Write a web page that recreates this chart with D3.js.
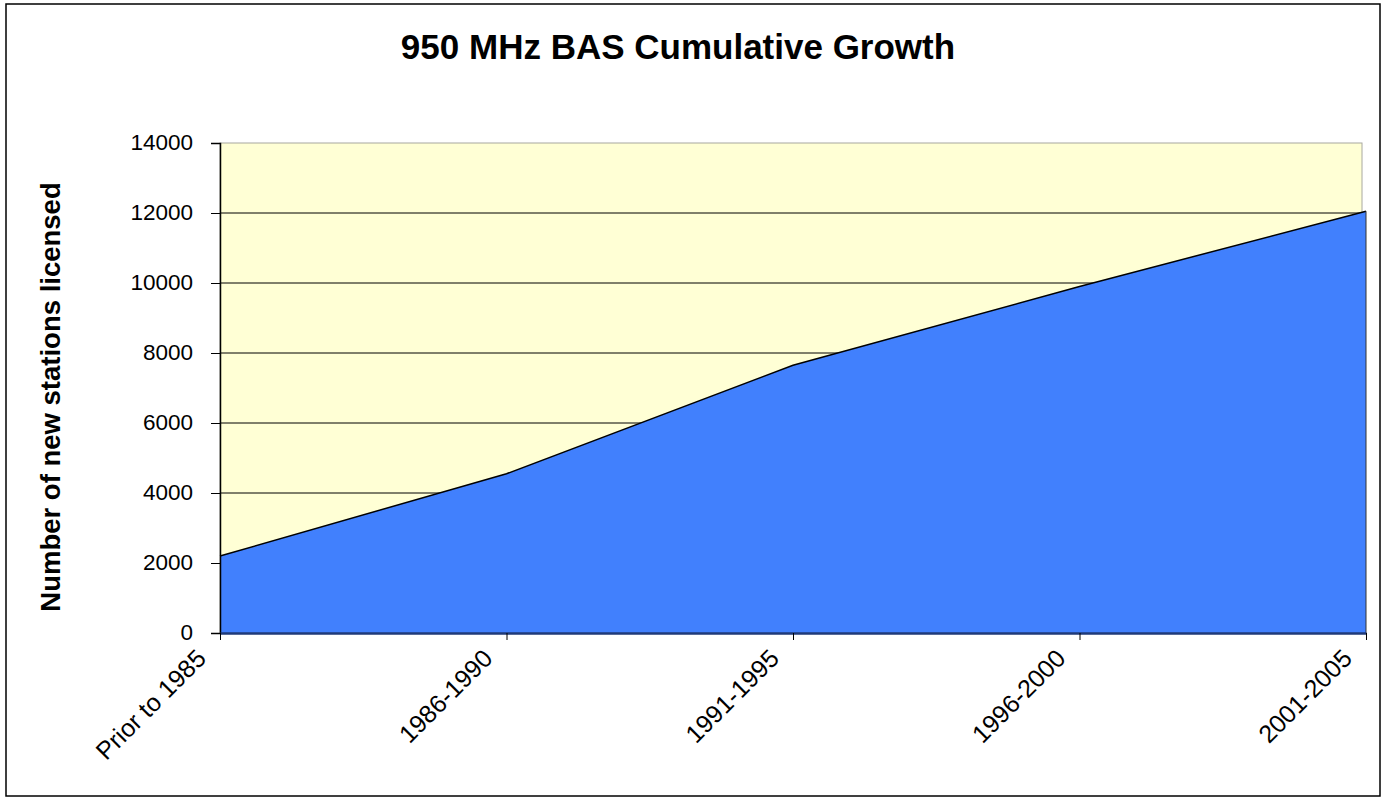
<!DOCTYPE html>
<html>
<head>
<meta charset="utf-8">
<script src="https://cdn.jsdelivr.net/npm/d3@7"></script>
<style>
  body { margin: 0; background: #fff; }
  svg { display: block; font-family: "Liberation Sans", Arial, sans-serif; }
</style>
</head>
<body>
<div id="chart"></div>
<script>
var periods = ["Prior to 1985", "1986-1990", "1991-1995", "1996-2000", "2001-2005"];
var stations = [2200, 4550, 7650, 9900, 12050];
var yTicks = [0, 2000, 4000, 6000, 8000, 10000, 12000, 14000];

var width = 1387, height = 798;
var margin = {top: 143, right: 21, bottom: 165, left: 220};

var svg = d3.select("#chart").append("svg")
    .attr("width", width)
    .attr("height", height);

// outer frame
svg.append("rect")
    .attr("x", 6).attr("y", 4)
    .attr("width", 1374).attr("height", 792)
    .attr("fill", "#fff")
    .attr("stroke", "#000")
    .attr("stroke-width", 1.5);

var x = d3.scalePoint()
    .domain(periods)
    .range([margin.left, width - margin.right]);

var y = d3.scaleLinear()
    .domain([0, 14000])
    .range([height - margin.bottom, margin.top]);

// plot background
svg.append("rect")
    .attr("x", margin.left)
    .attr("y", y(14000))
    .attr("width", x.range()[1] - 4 - margin.left)
    .attr("height", y(0) - y(14000))
    .attr("fill", "#ffffd5")
    .attr("stroke", "#a8a8a0")
    .attr("stroke-width", 1);

// gridlines
svg.append("g")
  .selectAll("line")
  .data(yTicks.slice(1, -1))
  .join("line")
    .attr("x1", margin.left)
    .attr("x2", x.range()[1] - 4)
    .attr("y1", d => y(d))
    .attr("y2", d => y(d))
    .attr("stroke", "#000")
    .attr("stroke-width", 1);

var rows = periods.map((p, i) => ({period: p, value: stations[i]}));

var area = d3.area()
    .x(d => x(d.period))
    .y0(y(0))
    .y1(d => y(d.value));

svg.append("path")
    .datum(rows)
    .attr("d", area)
    .attr("fill", "#4180fd");

svg.append("path")
    .datum(rows)
    .attr("d", d3.line().x(d => x(d.period)).y(d => y(d.value)))
    .attr("fill", "none")
    .attr("stroke", "#000")
    .attr("stroke-width", 1.5);

// right edge of the area
svg.append("line")
    .attr("x1", x.range()[1]).attr("x2", x.range()[1])
    .attr("y1", y(stations[stations.length - 1])).attr("y2", y(0))
    .attr("stroke", "#333").attr("stroke-width", 1);

// y axis
var yAxis = svg.append("g")
    .attr("transform", `translate(${margin.left},0)`)
    .call(d3.axisLeft(y).tickValues(yTicks).tickFormat(d3.format("d")).tickSize(9).tickPadding(18));
yAxis.select(".domain").attr("stroke", "#000").attr("stroke-width", 1.5);
yAxis.selectAll(".tick line").attr("stroke", "#000");
yAxis.selectAll("text").attr("font-size", 22.5).attr("fill", "#000").attr("dy", "0.3em");

// x axis
var xAxis = svg.append("g")
    .attr("transform", `translate(0,${y(0)})`)
    .call(d3.axisBottom(x).tickSize(7).tickSizeOuter(0));
xAxis.select(".domain").attr("stroke", "#1f3a78").attr("stroke-width", 2.5);
xAxis.selectAll(".tick line").attr("stroke", "#000");
xAxis.selectAll("text")
    .attr("font-size", 25)
    .attr("fill", "#000")
    .attr("text-anchor", "end")
    .attr("dy", 0)
    .attr("transform", "translate(-13,27) rotate(-45)")
    .attr("y", 0)
    .attr("x", 0);

// title
svg.append("text")
    .attr("x", 678)
    .attr("y", 59)
    .attr("text-anchor", "middle")
    .attr("font-size", 35)
    .attr("font-weight", "bold")
    .text("950 MHz BAS Cumulative Growth");

// y axis title
svg.append("text")
    .attr("transform", "translate(60,397) rotate(-90)")
    .attr("text-anchor", "middle")
    .attr("font-size", 27.5)
    .attr("font-weight", "bold")
    .text("Number of new stations licensed");
</script>
</body>
</html>
